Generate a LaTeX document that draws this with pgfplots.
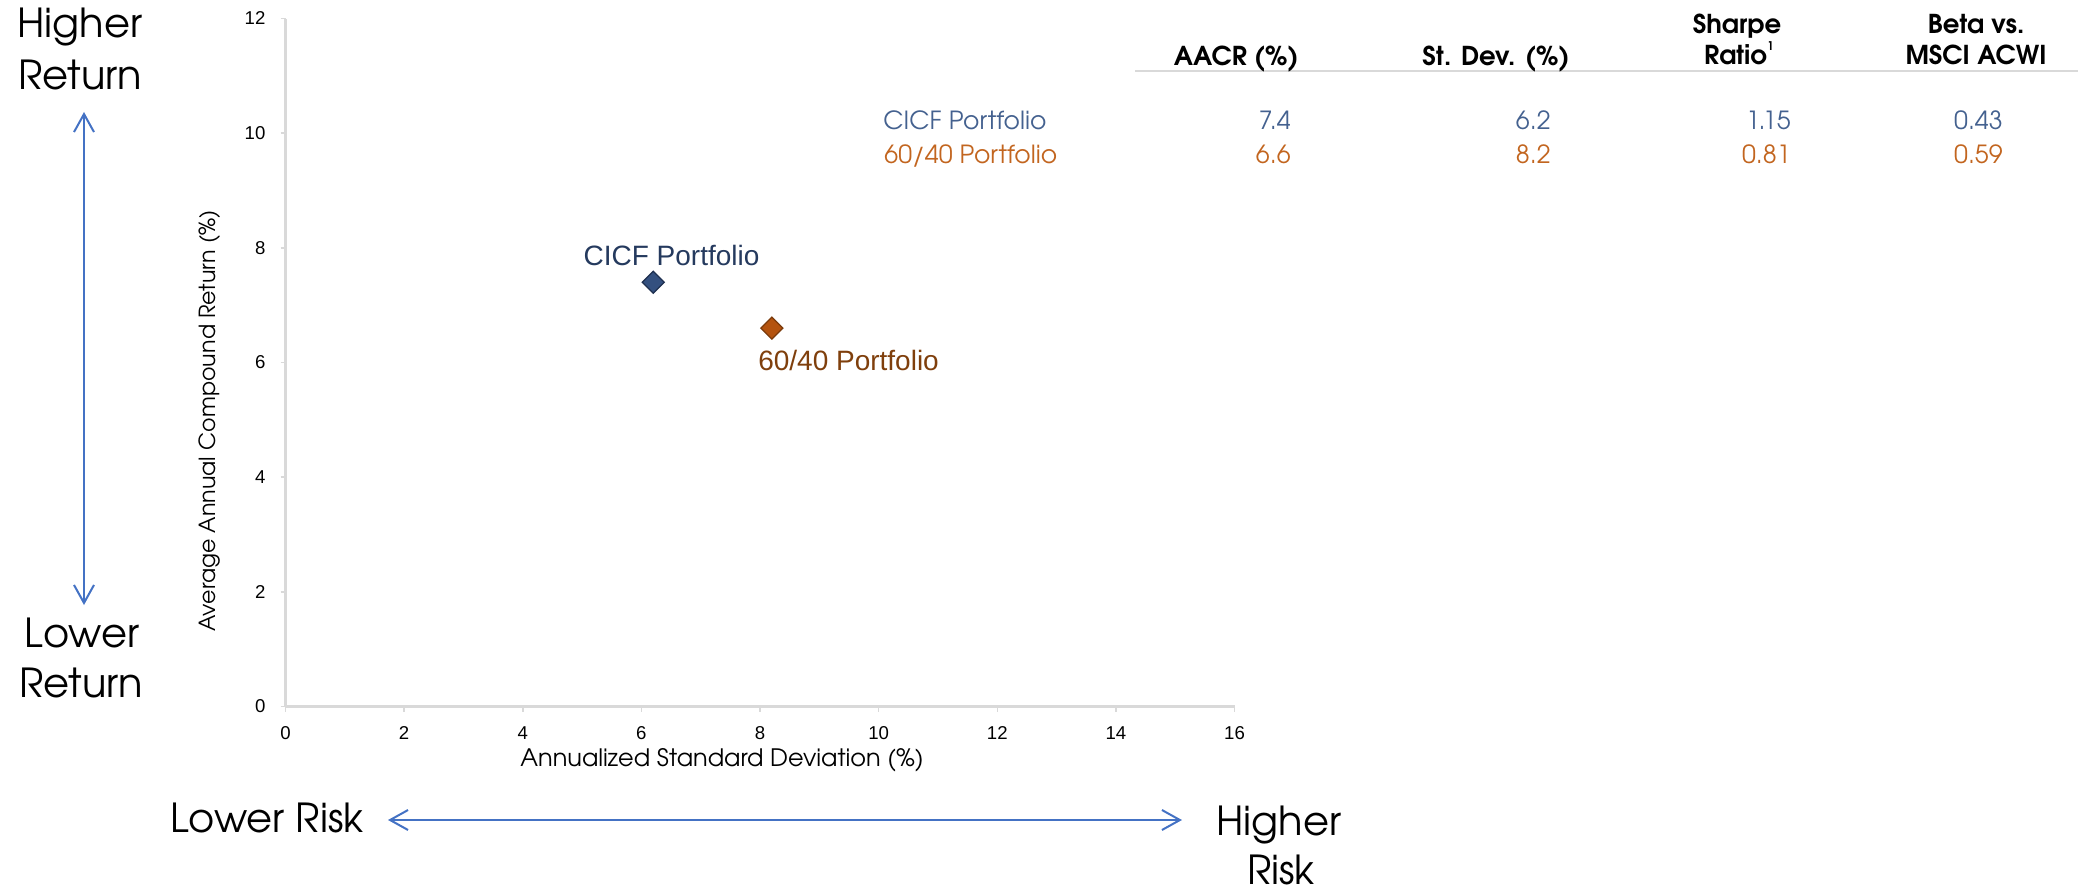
\documentclass[border=0pt]{standalone}
\usepackage{fontspec}
\usepackage{pgfplots}
\pgfplotsset{compat=1.18}
\usetikzlibrary{arrows.meta}
\setmainfont{Liberation Sans}
\newfontfamily\gothic{TeX Gyre Adventor}

\definecolor{cicfmark}{HTML}{34507F}
\definecolor{cicfedge}{HTML}{1F3050}
\definecolor{cicflabel}{HTML}{253A5E}
\definecolor{balmark}{HTML}{B4530E}
\definecolor{baledge}{HTML}{7A3A0A}
\definecolor{ballabel}{HTML}{7F3F0C}
\definecolor{cicftab}{HTML}{44618F}
\definecolor{baltab}{HTML}{C2651F}
\definecolor{arrowblue}{HTML}{4472C4}
\definecolor{axisgray}{HTML}{D9D9D9}

\newcommand{\sidefont}{\gothic\fontsize{20pt}{24pt}\selectfont}
\newcommand{\tabhead}{\gothic\bfseries\fontsize{13pt}{15pt}\selectfont}
\newcommand{\tabbody}{\gothic\fontsize{12.5pt}{15pt}\selectfont}

\begin{document}
\begin{tikzpicture}
% page frame, in pixel-like units (0.5pt each, y downwards)
\begin{scope}[x=0.5pt,y=-0.5pt]
  \useasboundingbox (0,0) rectangle (2082,888);
\end{scope}

\begin{axis}[
  at={(142.75pt,-353.25pt)}, anchor=south west,
  scale only axis, width=474.5pt, height=344pt,
  xmin=0, xmax=16, ymin=0, ymax=12,
  xtick={0,2,...,16}, ytick={0,2,...,12},
  axis x line*=bottom, axis y line*=left,
  axis line style={axisgray, line width=1.5pt, -},
  tick align=outside, major tick length=2.5pt,
  tick style={axisgray, line width=0.75pt},
  /pgf/number format/assume math mode=true,
  ticklabel style={font=\fontsize{9.3pt}{11pt}\selectfont, text=black},
  yticklabel style={xshift=-4pt},
  xticklabel style={yshift=-4pt},
  xlabel={Annualized Standard Deviation (\%)},
  ylabel={Average Annual Compound Return (\%)},
  every axis x label/.style={at={(rel axis cs:0.46,0)}, yshift=-26.75pt, anchor=center,
    font=\gothic\fontsize{12pt}{14pt}\selectfont},
  every axis y label/.style={at={(rel axis cs:0,0.415)}, xshift=-37.75pt, rotate=90, anchor=center,
    font=\gothic\fontsize{11.1pt}{13pt}\selectfont},
  clip=false,
]
\addplot[only marks, mark=square*, mark size=3.9pt,
  mark options={rotate=45, fill=cicfmark, draw=cicfedge, line width=0.6pt}]
  coordinates {(6.2,7.4)};
\addplot[only marks, mark=square*, mark size=3.9pt,
  mark options={rotate=45, fill=balmark, draw=baledge, line width=0.6pt}]
  coordinates {(8.2,6.6)};
\node[anchor=base west, xshift=-35pt, yshift=8.5pt, text=cicflabel,
  font=\fontsize{14pt}{16pt}\selectfont, inner sep=0pt] at (axis cs:6.2,7.4) {CICF Portfolio};
\node[anchor=base west, xshift=-7pt, yshift=-21pt, text=ballabel,
  font=\fontsize{14pt}{16pt}\selectfont, inner sep=0pt] at (axis cs:8.2,6.6) {60/40 Portfolio};
\end{axis}

\begin{scope}[x=0.5pt,y=-0.5pt]
  % risk / return arrows
  \draw[arrowblue, line width=1pt,
    {Straight Barb[length=9pt,width=10pt]}-{Straight Barb[length=9pt,width=10pt]}]
    (84,112) -- (84,605);
  \draw[arrowblue, line width=1pt,
    {Straight Barb[length=9pt,width=10pt]}-{Straight Barb[length=9pt,width=10pt]}]
    (388,820) -- (1182,820);
  \node[anchor=base, inner sep=0pt, font=\sidefont] at (80,38) {Higher};
  \node[anchor=base, inner sep=0pt, font=\sidefont] at (80,90) {Return};
  \node[anchor=base, inner sep=0pt, font=\sidefont] at (82,647) {Lower};
  \node[anchor=base, inner sep=0pt, font=\sidefont] at (81,697) {Return};
  \node[anchor=base east, inner sep=0pt, font=\sidefont] at (364,832) {Lower Risk};
  \node[anchor=base, inner sep=0pt, font=\sidefont] at (1279,835) {Higher};
  \node[anchor=base, inner sep=0pt, font=\sidefont] at (1281,884) {Risk};

  % summary table
  \draw[axisgray, line width=1pt] (1135,71) -- (2078,71);
  \node[anchor=base east, inner sep=0pt, font=\tabhead] at (1299,66) {AACR (\%)};
  \node[anchor=base east, inner sep=0pt, font=\tabhead] at (1570,66) {St. Dev. (\%)};
  \node[anchor=base, inner sep=0pt, font=\tabhead] at (1737,34) {Sharpe};
  \node[anchor=base, inner sep=0pt, font=\tabhead] at (1739,65)
    {Ratio\raisebox{0.55em}{\fontsize{6pt}{6pt}\selectfont 1}};
  \node[anchor=base, inner sep=0pt, font=\tabhead] at (1976,34) {Beta vs.};
  \node[anchor=base, inner sep=0pt, font=\tabhead] at (1976,65) {MSCI ACWI};

  \node[anchor=base west, inner sep=0pt, font=\tabbody, text=cicftab] at (883,130) {CICF Portfolio};
  \node[anchor=base west, inner sep=0pt, font=\tabbody, text=baltab] at (884,163) {60/40 Portfolio};
  \node[anchor=base east, inner sep=0pt, font=\tabbody, text=cicftab] at (1291,130) {7.4};
  \node[anchor=base east, inner sep=0pt, font=\tabbody, text=baltab] at (1291,163) {6.6};
  \node[anchor=base east, inner sep=0pt, font=\tabbody, text=cicftab] at (1551,130) {6.2};
  \node[anchor=base east, inner sep=0pt, font=\tabbody, text=baltab] at (1551,163) {8.2};
  \node[anchor=base east, inner sep=0pt, font=\tabbody, text=cicftab] at (1791,130) {1.15};
  \node[anchor=base east, inner sep=0pt, font=\tabbody, text=baltab] at (1791,163) {0.81};
  \node[anchor=base east, inner sep=0pt, font=\tabbody, text=cicftab] at (2003,130) {0.43};
  \node[anchor=base east, inner sep=0pt, font=\tabbody, text=baltab] at (2003,163) {0.59};
\end{scope}
\end{tikzpicture}
\end{document}
